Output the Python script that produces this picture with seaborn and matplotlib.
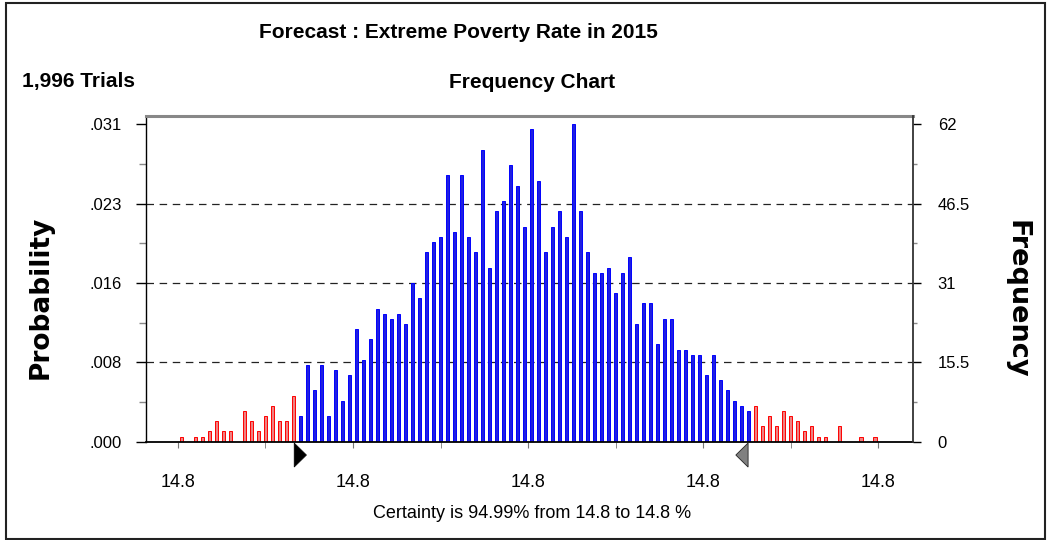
import numpy as np
import pandas as pd
import seaborn as sns
import matplotlib.pyplot as plt
from matplotlib.patches import Polygon, Rectangle
from matplotlib.ticker import FixedLocator
from matplotlib.transforms import blended_transform_factory

# =========================
# Data
# =========================
trials = 1996
certainty_pct = "94.99"
bin_label = "14.8"

# frequency per bin, 100 bins
freq = [1, 0, 1, 1, 2, 4, 2, 2, 0, 6, 4, 2, 5, 7, 4, 4, 9,
        5, 15, 10, 15, 5, 14, 8, 13, 22, 16, 20, 26, 25, 24, 25, 23,
        31, 28, 37, 39, 40, 52, 41, 52, 40, 37, 57, 34, 45, 47, 54, 50,
        42, 61, 51, 37, 42, 45, 40, 62, 45, 37, 33, 33, 34, 29, 33, 36,
        23, 27, 27, 19, 24, 24, 18, 18, 17, 17, 13, 17, 12, 10, 8, 7, 6,
        7, 3, 5, 3, 6, 5, 4, 2, 3, 1, 1, 0, 3, 0, 0, 1, 0, 1]
lo_idx, hi_idx = 17, 82          # first / one-past-last bin inside the certainty range
cert_lo, cert_hi = 16.1, 80.9    # marker positions (bin units)

freq_ticks = [0, 15.5, 31, 46.5, 62]
grid_levels = [15.5, 31, 46.5]
xtick_pos = [-0.5, 24.5, 49.5, 74.5, 99.5]

df = pd.DataFrame({"bin": np.arange(len(freq)), "freq": freq})
df["zone"] = np.where((df["bin"] >= lo_idx) & (df["bin"] < hi_idx), "in", "out")

narrow = ["Liberation Sans Narrow", "Liberation Sans", "DejaVu Sans"]
plt.rcParams["font.family"] = ["Liberation Sans", "DejaVu Sans"]

# =========================
# Plot
# =========================
W, H = 1047, 540
fig = plt.figure(figsize=(W / 100, H / 100), dpi=100)
ax = fig.add_axes([145.7 / W, 1 - 441.7 / H, (912.7 - 145.7) / W, (441.7 - 116.5) / H])

for v in grid_levels:
    ax.axhline(v, color="#222222", lw=0.9, ls=(0, (6, 4.5)), zorder=0)

sns.barplot(data=df, x="bin", y="freq", hue="zone", hue_order=["out", "in"],
            palette={"out": "#ff7070", "in": "#0000ff"}, dodge=False,
            width=0.47, legend=False, ax=ax, zorder=2)
for cont, ec in zip(ax.containers, ["#ff0000", "#0000ff"]):
    for bar in cont:
        bar.set_edgecolor(ec)
        bar.set_linewidth(0.7)

ax.set_xlim(-5.1, 104.4)
ax.set_ylim(0, 63.5)
ax.set_xlabel("")
ax.set_ylabel("")

# x axis
ax.xaxis.set_major_locator(FixedLocator(xtick_pos))
ax.set_xticklabels([bin_label] * len(xtick_pos))
ax.xaxis.set_minor_locator(FixedLocator([p + 12.5 for p in xtick_pos[:-1]]))
ax.tick_params(axis="x", which="both", direction="out", length=4, color="#777777",
               pad=19, labelsize=13)

# left axis: probability
ax.yaxis.set_major_locator(FixedLocator(freq_ticks))
ax.set_yticklabels([f"{v / trials:.3f}".lstrip("0") for v in freq_ticks])
ax.yaxis.set_minor_locator(FixedLocator([v + 7.75 for v in freq_ticks[:-1]]))
ax.tick_params(axis="y", which="major", length=7, width=1, color="black", pad=10, labelsize=12)
ax.tick_params(axis="y", which="minor", length=5, width=1, color="#888888")

# right axis: frequency
ax2 = ax.twinx()
ax2.set_ylim(ax.get_ylim())
ax2.yaxis.set_major_locator(FixedLocator(freq_ticks))
ax2.set_yticklabels([f"{v:g}" for v in freq_ticks])
ax2.yaxis.set_minor_locator(FixedLocator([v + 7.75 for v in freq_ticks[:-1]]))
ax2.tick_params(axis="y", which="major", length=6, width=1, color="black", pad=12, labelsize=12)
ax2.tick_params(axis="y", which="minor", length=3, width=1, color="#888888")

for s in ["top", "left", "bottom"]:
    ax2.spines[s].set_visible(False)
ax.spines["right"].set_visible(False)
ax2.spines["right"].set_color("#333333")
ax2.spines["right"].set_linewidth(1.3)
ax.spines["top"].set_color("#888888")
ax.spines["top"].set_linewidth(2.2)
ax.spines["left"].set_color("black")
ax.spines["left"].set_linewidth(1.0)
ax.spines["bottom"].set_color("black")
ax.spines["bottom"].set_linewidth(1.3)

# certainty markers
tr = blended_transform_factory(ax.transData, ax.transAxes)
ax.add_patch(Polygon([(cert_lo, -0.004), (cert_lo, -0.078), (cert_lo + 1.75, -0.041)],
                     closed=True, facecolor="black", edgecolor="black", lw=0.5,
                     transform=tr, clip_on=False))
ax.add_patch(Polygon([(cert_hi, -0.004), (cert_hi, -0.078), (cert_hi - 1.75, -0.041)],
                     closed=True, facecolor="#808080", edgecolor="#222222", lw=0.6,
                     transform=tr, clip_on=False))

# texts
fig.text(458 / W, 1 - 32 / H, "Forecast : Extreme Poverty Rate in 2015", family=narrow,
         fontsize=15, fontweight="bold", ha="center", va="center")
fig.text(22 / W, 1 - 82 / H, f"{trials:,} Trials", family=narrow,
         fontsize=15, fontweight="bold", ha="left", va="center")
fig.text(532 / W, 1 - 82 / H, "Frequency Chart", family=narrow,
         fontsize=15, fontweight="bold", ha="center", va="center")
fig.text(41 / W, 1 - 297 / H, "Probability", family=["DejaVu Sans"],
         fontsize=19, fontweight="bold", rotation=90, ha="center", va="center")
fig.text(1016 / W, 1 - 299 / H, "Frequency", family=["DejaVu Sans"],
         fontsize=19.5, fontweight="bold", rotation=270, ha="center", va="center")
fig.text(532 / W, 1 - 514 / H, f"Certainty is {certainty_pct}% from {bin_label} to {bin_label} %",
         fontsize=13, ha="center", va="center")

# outer frame
fig.patches.append(Rectangle((6 / W, 1 / H), 1039 / W, 536 / H, transform=fig.transFigure,
                             fill=False, edgecolor="#222222", lw=1.5))

fig.savefig("out.png", dpi=100)
